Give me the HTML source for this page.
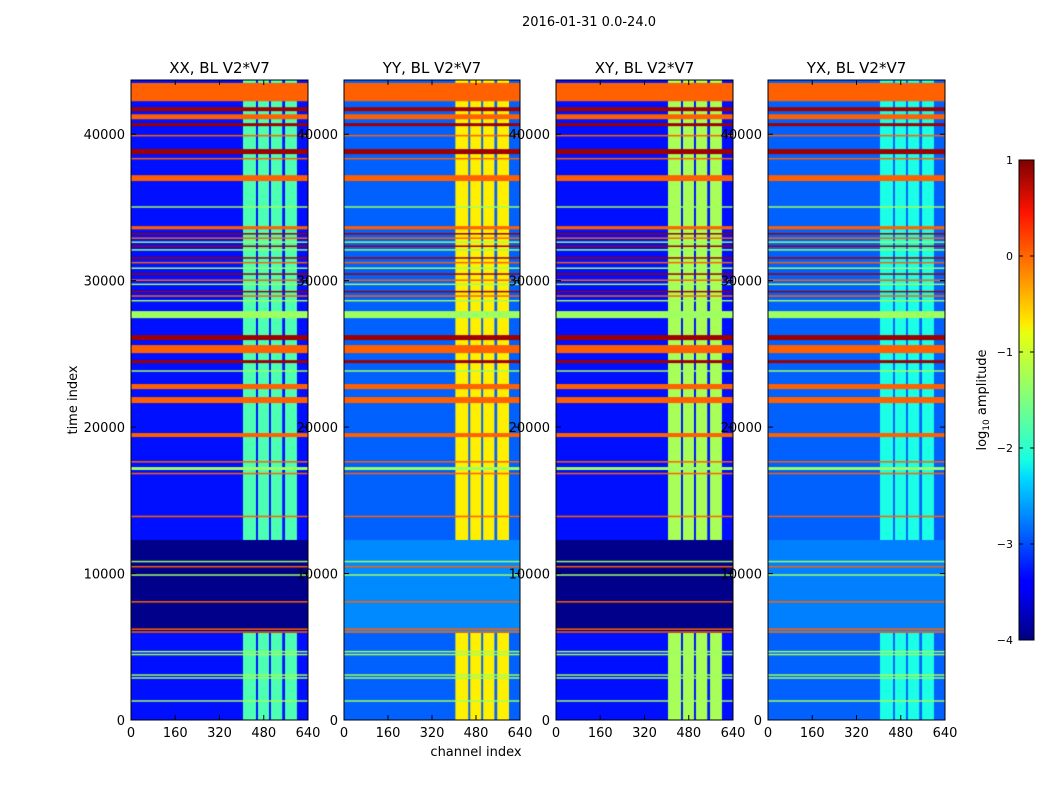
<!DOCTYPE html>
<html><head><meta charset="utf-8"><style>
body{margin:0;background:#fff;width:1050px;height:800px;overflow:hidden;position:relative;font-family:"DejaVu Sans","Liberation Sans",sans-serif}
svg,canvas{position:absolute;left:0;top:0}
</style></head><body>
<canvas id="p0" width="177" height="640" style="left:131px;top:80px"></canvas>
<canvas id="p1" width="176" height="640" style="left:344px;top:80px"></canvas>
<canvas id="p2" width="177" height="640" style="left:556px;top:80px"></canvas>
<canvas id="p3" width="177" height="640" style="left:768px;top:80px"></canvas>
<svg id="over" width="1050" height="800">
<defs><linearGradient id="jet" x1="0" y1="1" x2="0" y2="0">
<stop offset="0" stop-color="#00007f"/><stop offset="0.11" stop-color="#0000ff"/><stop offset="0.125" stop-color="#0000ff"/><stop offset="0.34" stop-color="#00dcff"/><stop offset="0.375" stop-color="#16ffe1"/><stop offset="0.5" stop-color="#7fff7f"/><stop offset="0.64" stop-color="#e8ff0e"/><stop offset="0.66" stop-color="#ffea00"/><stop offset="0.89" stop-color="#ff1300"/><stop offset="1" stop-color="#7f0000"/></linearGradient></defs>
<text x="589" y="26" font-size="13" text-anchor="middle">2016-01-31 0.0-24.0</text>
<text x="476" y="756" font-size="13" text-anchor="middle">channel index</text>
<text transform="translate(77,400) rotate(-90)" font-size="13" text-anchor="middle">time index</text>
<rect x="1019" y="160" width="15" height="480" fill="url(#jet)" stroke="#000" stroke-width="1"/>
<g id="cbticks"></g>
<text transform="translate(986,400) rotate(-90)" font-size="13" text-anchor="middle">log<tspan font-size="9" dy="3">10</tspan><tspan dy="-3"> amplitude</tspan></text>
</svg>
<script>
const titles=["XX, BL V2*V7","YY, BL V2*V7","XY, BL V2*V7","YX, BL V2*V7"];
const xTicks=[0,160,320,480,640];
const yTicks=[0,10000,20000,30000,40000];
const cbTicks=[1,0,-1,-2,-3,-4];
const chanBands=[[405,452],[459,499],[506,547],[557,600]];
const rowBands=[[42250,43500,-0.1],[41570,41840,0.85],[41020,41360,-0.1],[40550,40750,0.85],[39850,39950,-0.1],[38640,38980,0.85],[38300,38380,-0.1],[36800,37200,-0.1],[35000,35080,-1.35],[33500,33720,-0.1],[33150,33250,0.85],[32850,32950,-0.1],[32600,32680,-1.35],[32300,32400,0.85],[32050,32150,-1.35],[31500,31600,0.85],[31200,31280,-0.1],[30800,30900,-1.35],[30400,30500,0.85],[30000,30080,-0.1],[29700,29800,-1.35],[29200,29300,0.85],[28900,29000,-0.1],[28600,28680,-1.35],[27440,27920,-1.35],[25940,26280,0.85],[25050,25600,-0.1],[24370,24570,0.85],[23800,23880,-1.35],[22590,22940,-0.1],[21640,22050,-0.1],[19320,19590,-0.1],[17600,17680,-0.1],[17070,17270,-1.35],[16800,16880,-0.1],[13850,13950,-0.1],[10800,10870,-1.35],[10450,10520,-0.1],[9880,9950,-1.35],[8050,8120,-0.1],[6180,6250,-0.1],[6000,6060,-0.1],[4650,4720,-1.35],[4450,4520,-1.35],[3050,3120,-1.35],[2850,2920,-1.35],[1280,1350,-1.35]];
const quietZone=[5940,12290];
const bgValues=[-3.3,-2.9,-3.3,-2.9];
const bandValues=[-1.75,-0.8,-1.3,-2.0];
const quietValues=[-3.95,-2.7,-3.95,-2.75];
const TMAX=43700, VMIN=-4, VMAX=1;
const panelX=[131,344,556,768], panelW=[177,176,177,177], PY=80, PH=640;
function jet(v){let x=Math.max(0,Math.min(1,(v-VMIN)/(VMAX-VMIN)));
 const c=k=>Math.round(255*Math.max(0,Math.min(1,1.5-Math.abs(4*x-k))));
 return `rgb(${c(3)},${c(2)},${c(1)})`;}
const NS="http://www.w3.org/2000/svg";
function mk(parent,tag,attrs,txt){const e=document.createElementNS(NS,tag);for(const k in attrs)e.setAttribute(k,attrs[k]);if(txt!==undefined)e.textContent=txt;parent.appendChild(e);return e;}
const over=document.getElementById('over');
for(let p=0;p<4;p++){
 const W=panelW[p];
 const xs=c=>c/640*W, ys=t=>PH-t/TMAX*PH;
 const ctx=document.getElementById('p'+p).getContext('2d');
 ctx.fillStyle=jet(bgValues[p]);ctx.fillRect(0,0,W,PH);
 ctx.fillStyle=jet(bandValues[p]);
 for(const b of chanBands){ctx.fillRect(xs(b[0]),ys(TMAX),xs(b[1])-xs(b[0]),PH);}
 ctx.fillStyle=jet(quietValues[p]);
 ctx.fillRect(0,ys(quietZone[1]),W,ys(quietZone[0])-ys(quietZone[1]));
 for(const r of rowBands){ctx.fillStyle=jet(r[2]);const y0=ys(r[1]),y1=ys(r[0]);ctx.fillRect(0,y0,W,Math.max(1.5,y1-y0));}
 const X0=panelX[p];
 const g=mk(over,'g',{});
 
 
 for(const t of yTicks){const l=mk(g,'text',{x:X0-6,y:PY+ys(t)+5,'font-size':13,'text-anchor':'end'},String(t));
  
  }
 for(const t of xTicks){const x=X0+xs(t);
  mk(g,'line',{x1:x,y1:PY+PH,x2:x,y2:PY+PH-5,stroke:'#000'});
  mk(g,'line',{x1:x,y1:PY,x2:x,y2:PY+5,stroke:'#000'});
  const l=mk(g,'text',{x:x,y:PY+PH+17,'font-size':13,'text-anchor':'middle'},String(t));
  
  }
 for(const t of yTicks){const y=PY+ys(t);
  mk(g,'line',{x1:X0,y1:y,x2:X0+5,y2:y,stroke:'#000'});
  mk(g,'line',{x1:X0+W,y1:y,x2:X0+W-5,y2:y,stroke:'#000'});}
 mk(g,'rect',{x:X0,y:PY,width:W,height:PH,fill:'none',stroke:'#000','stroke-width':1});
 const tt=mk(g,'text',{x:X0+W/2,y:PY-7,'font-size':15,'text-anchor':'middle'},titles[p]);
 
 
}
const cb=document.getElementById('cbticks');
for(const v of cbTicks){const y=160+(VMAX-v)/(VMAX-VMIN)*480;
 mk(cb,'line',{x1:1019,y1:y,x2:1023,y2:y,stroke:'#000'});
 mk(cb,'line',{x1:1034,y1:y,x2:1030,y2:y,stroke:'#000'});
 const l=mk(cb,'text',{x:1013,y:y+4,'font-size':11,'text-anchor':'end'},v<0?'\u2212'+(-v):String(v));
 
 }
</script>
</body></html>
